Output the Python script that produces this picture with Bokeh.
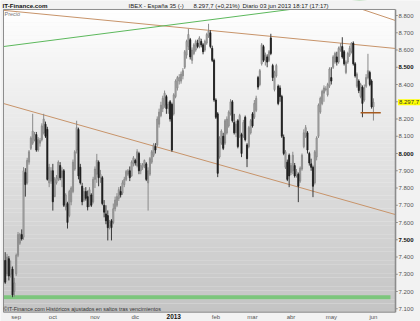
import numpy as np
import pandas as pd
from bokeh.plotting import figure
from bokeh.models import Range1d, Label, ColumnDataSource
from bokeh.core.properties import value
from bokeh.embed import file_html
from bokeh.resources import INLINE

# ---------------- data ----------------
dates = pd.bdate_range("2012-08-24", "2013-06-03")

open_ = [7380, 7302, 7390, 7300, 7330, 7200, 7302, 7410, 7480, 7530,
         7515, 7890, 7830, 7950, 8030, 8060, 8080, 8110, 8020, 8060,
         8080, 8120, 8170, 8140, 7830, 7840, 7900, 7750, 7830, 7850,
         7930, 7860, 7900, 7690, 7710, 7640, 7720, 7780, 7910, 8020,
         8140, 7921, 7810, 7730, 7780, 7750, 7700, 7760, 7720, 7850,
         7880, 7950, 7860, 7860, 7700, 7650, 7640, 7580, 7610, 7600,
         7680, 7700, 7740, 7780, 7770, 7820, 7850, 7880, 7900, 7870,
         7940, 7960, 7930, 8000, 7900, 7920, 7930, 7940, 7830, 7880,
         7950, 7990, 8040, 8050, 8170, 8220, 8260, 8280, 8330, 8260,
         8300, 8285, 8230, 8330, 8380, 8420, 8420, 8450, 8500, 8570,
         8620, 8660, 8540, 8580, 8600, 8640, 8620, 8650, 8630, 8600,
         8640, 8680, 8700, 8610, 8540, 8310, 8230, 7980, 8060, 8100,
         8060, 8120, 8160, 8230, 8300, 8180, 8120, 8190, 8100, 8110,
         8100, 8210, 8050, 8040, 8120, 8230, 8210, 8250, 8440, 8400,
         8520, 8620, 8540, 8560, 8540, 8670, 8510, 8370, 8450, 8390,
         8380, 8330, 8095, 7920, 7950, 7990, 7890, 7900, 7930, 7870,
         7880, 7840, 7910, 8040, 8100, 8120, 8000, 7940, 7920, 7830,
         7980, 8100, 8240, 8290, 8350, 8370, 8340, 8390, 8440, 8500,
         8530, 8560, 8530, 8600, 8620, 8590, 8470, 8530, 8570, 8590,
         8640, 8520, 8390, 8420, 8330, 8385, 8310, 8390, 8440, 8470,
         8420, 8270]
high = [7428, 7418, 7405, 7380, 7345, 7280, 7420, 7545, 7540, 7560,
        7921, 7915, 7975, 8020, 8100, 8230, 8125, 8125, 8095, 8090,
        8175, 8230, 8185, 8155, 7940, 7921, 7940, 7863, 7875, 7960,
        7950, 7920, 7910, 7770, 7720, 7790, 7810, 7965, 8020, 8190,
        8150, 7940, 7830, 7800, 7805, 7785, 7805, 7770, 7865, 7925,
        7998, 7960, 7905, 7870, 7730, 7700, 7670, 7615, 7620, 7710,
        7750, 7770, 7805, 7810, 7845, 7865, 7905, 7910, 7925, 7960,
        7985, 7970, 8025, 8010, 7945, 7945, 7965, 7950, 7920, 7980,
        8020, 8060, 8060, 8215, 8260, 8300, 8335, 8365, 8340, 8300,
        8310, 8295, 8350, 8430, 8450, 8460, 8475, 8495, 8600, 8660,
        8723, 8670, 8615, 8640, 8660, 8660, 8680, 8665, 8640, 8660,
        8700, 8752, 8715, 8625, 8550, 8320, 8240, 8100, 8140, 8120,
        8200, 8215, 8250, 8315, 8310, 8230, 8190, 8200, 8230, 8120,
        8195, 8220, 8060, 8160, 8200, 8240, 8310, 8335, 8450, 8490,
        8640, 8630, 8585, 8575, 8600, 8694, 8520, 8480, 8520, 8400,
        8395, 8340, 8110, 8020, 7965, 8000, 7945, 8010, 7945, 7910,
        7890, 7925, 8000, 8140, 8165, 8130, 8010, 7970, 7930, 8020,
        8100, 8290, 8330, 8370, 8395, 8390, 8410, 8500, 8500, 8570,
        8590, 8590, 8620, 8640, 8674, 8600, 8540, 8590, 8625, 8645,
        8650, 8530, 8470, 8430, 8410, 8395, 8400, 8460, 8578, 8480,
        8430, 8320]
low = [7244, 7290, 7264, 7280, 7167, 7170, 7290, 7399, 7470, 7495,
       7500, 7750, 7820, 7935, 8020, 8050, 8070, 8010, 8010, 8040,
       8070, 8110, 8090, 7843, 7805, 7824, 7669, 7747, 7820, 7840,
       7845, 7805, 7690, 7670, 7565, 7630, 7700, 7770, 7900, 8000,
       7850, 7820, 7700, 7720, 7727, 7670, 7690, 7690, 7710, 7800,
       7830, 7810, 7830, 7700, 7630, 7590, 7496, 7560, 7496, 7590,
       7665, 7690, 7725, 7745, 7760, 7805, 7840, 7870, 7840, 7865,
       7925, 7930, 7920, 7880, 7880, 7905, 7915, 7840, 7669, 7870,
       7940, 7979, 8000, 8040, 8150, 8210, 8240, 8265, 8230, 8230,
       8185, 8010, 8220, 8320, 8365, 8400, 8405, 8430, 8490, 8550,
       8600, 8545, 8520, 8570, 8590, 8610, 8610, 8615, 8575, 8590,
       8630, 8670, 8610, 8530, 8300, 8200, 7863, 7970, 8050, 8020,
       8050, 8110, 8150, 8220, 8180, 8110, 8095, 8030, 8090, 7979,
       8090, 8070, 7921, 8030, 8110, 8150, 8200, 8240, 8370, 8390,
       8510, 8530, 8510, 8500, 8530, 8570, 8420, 8360, 8440, 8280,
       8300, 8090, 7990, 7910, 7840, 7805, 7875, 7880, 7860, 7860,
       7718, 7830, 7900, 8030, 8090, 8000, 7930, 7900, 7747, 7820,
       7960, 8090, 8230, 8280, 8300, 8360, 8330, 8380, 8400, 8490,
       8520, 8510, 8520, 8590, 8550, 8510, 8460, 8520, 8560, 8580,
       8510, 8440, 8380, 8350, 8320, 8210, 8300, 8380, 8430, 8390,
       8260, 8191]
close = [7254, 7400, 7290, 7340, 7180, 7250, 7410, 7530, 7530, 7505,
         7900, 7820, 7960, 8010, 8090, 8130, 8110, 8020, 8080, 8075,
         8160, 8200, 8100, 7850, 7920, 7900, 7720, 7850, 7860, 7950,
         7860, 7900, 7700, 7760, 7600, 7780, 7800, 7950, 8010, 8150,
         7870, 7830, 7720, 7780, 7740, 7690, 7790, 7700, 7850, 7910,
         7960, 7860, 7880, 7710, 7660, 7610, 7570, 7600, 7570, 7680,
         7730, 7750, 7790, 7760, 7830, 7850, 7895, 7900, 7860, 7950,
         7975, 7945, 8010, 7900, 7930, 7935, 7960, 7850, 7900, 7970,
         8010, 8050, 8020, 8200, 8240, 8280, 8320, 8350, 8260, 8285,
         8200, 8020, 8340, 8420, 8440, 8440, 8460, 8480, 8590, 8650,
         8690, 8560, 8600, 8630, 8650, 8620, 8670, 8630, 8590, 8650,
         8690, 8710, 8620, 8540, 8310, 8210, 7885, 8090, 8130, 8030,
         8190, 8200, 8240, 8300, 8190, 8120, 8170, 8040, 8220, 8000,
         8180, 8080, 7970, 8150, 8190, 8160, 8290, 8320, 8385, 8480,
         8630, 8540, 8570, 8530, 8590, 8580, 8440, 8470, 8510, 8290,
         8330, 8100, 8000, 8010, 7850, 7870, 7930, 7990, 7870, 7895,
         7810, 7915, 7990, 8120, 8150, 8020, 7945, 7920, 7810, 8010,
         8090, 8280, 8320, 8360, 8380, 8375, 8400, 8490, 8420, 8560,
         8580, 8530, 8610, 8620, 8560, 8520, 8530, 8580, 8610, 8640,
         8520, 8450, 8460, 8365, 8400, 8290, 8380, 8440, 8480, 8400,
         8270, 8297.7]

month_labels = ["sep", "oct", "nov", "dic", "2013", "feb", "mar", "abr", "may", "jun"]
bold_month_labels = ["2013"]
y_ticks = [7100, 7200, 7300, 7400, 7500, 7600, 7700, 7800, 7900,
           8000, 8100, 8200, 8300, 8400, 8500, 8600, 8700, 8800]
y_tick_labels = ["7.100", "7.200", "7.300", "7.400", "7.500", "7.600", "7.700", "7.800", "7.900",
                 "8.000", "8.100", "8.200", "8.300", "8.400", "8.500", "8.600", "8.700", "8.800"]
bold_ticks = [7500, 8000, 8500]
last_price = 8297.7
last_price_label = "8.297,7"

title_parts = ["IBEX - España 35 (-)", "8.297,7 (+0,21%)", "Diario  03 jun 2013 18:17 (17:17)"]
brand = "IT-Finance.com"
series_name = "Precio"
footer = "©IT-Finance.com Históricos ajustados en saltos tras vencimientos"

# drawn analysis lines: (day index, price)
resist_x, resist_y = [-1, 213], [8830, 8609]
green_x, green_y = [-1, 213], [8620, 8914]
support_x, support_y = [-1, 213], [8290, 7646]
steep_x, steep_y = [190, 213], [8853, 8771]
level_x, level_y = [194, 205], [8236, 8236]
band_x, band_y = [-1, 210.3], [7167, 7167]

# ---------------- figure ----------------
FONT = "Liberation Sans"
W, H = 420, 321
# price box in data units (day index / price)
X0, X1 = -0.93, 213.05
Y0, Y1 = 7080, 8835
# full canvas ranges
XL, XR = -2.566, 226.69
YB, YT = 7026.1, 8887.0
dx = (XR - XL) / W   # data units per pixel
dy = (YT - YB) / H

p = figure(width=W, height=H, output_backend="svg", toolbar_location=None,
           x_range=Range1d(XL, XR), y_range=Range1d(YB, YT),
           x_axis_type=None, y_axis_type=None,
           min_border=0, min_border_left=0, min_border_right=0,
           min_border_top=0, min_border_bottom=0)
p.border_fill_color = "#f2f2f2"
p.background_fill_color = "#f2f2f2"
p.outline_line_color = None
p.grid.visible = False

# price-box background gradient (decoration)
n = 70
ys = np.linspace(Y0, Y1, n + 1)
cols = []
for k in range(n):
    t = (k + 0.5) / n
    g = int(round(196 + (255 - 196) * t))
    cols.append("#%02x%02x%02x" % (g, g, g))
p.quad(left=X0, right=X1, bottom=ys[:-1], top=ys[1:], fill_color=cols, line_color=None)

idx = list(range(len(close)))
up = [c >= o for o, c in zip(open_, close)]

def src(mask):
    ii = [i for i in idx if mask[i]]
    return ColumnDataSource(dict(
        x=ii,
        h=[high[i] for i in ii], l=[low[i] for i in ii],
        t=[max(open_[i], close[i]) for i in ii],
        b=[min(open_[i], close[i]) for i in ii]))

s_up = src(up)
s_dn = src([not u for u in up])

# analysis lines
p.line(band_x, band_y, line_color="#7cc67c", line_width=4)
p.line(resist_x, resist_y, line_color="#c8946a", line_width=1)
p.line(support_x, support_y, line_color="#c8946a", line_width=1)
p.line(green_x, green_y, line_color="#5cb85c", line_width=1)

# candles
p.segment(x0="x", y0="l", x1="x", y1="h", source=s_up, line_color="#8a8a8a", line_width=1)
p.vbar(x="x", width=0.6, top="t", bottom="b", source=s_up,
       fill_color="#b8b8b8", line_color="#858585", line_width=0.8)
p.segment(x0="x", y0="l", x1="x", y1="h", source=s_dn, line_color="#3a3a3a", line_width=1)
p.vbar(x="x", width=0.6, top="t", bottom="b", source=s_dn,
       fill_color="#1e1e1e", line_color="#1e1e1e", line_width=0.8)

p.line(level_x, level_y, line_color="#a65a1e", line_width=1.5)

# cover anything drawn above the box (steep line clipped at the box top)
p.quad(left=XL, right=XR, bottom=Y1, top=YT, fill_color="#f2f2f2", line_color=None)
p.line(steep_x, steep_y, line_color="#c8946a", line_width=1)
p.quad(left=X0 + 150, right=X1, bottom=Y1, top=YT, fill_color="#f2f2f2", line_color=None)

# price-box frame
p.line([X0, X0, X1], [Y0, Y1, Y1], line_color="#8c8c8c", line_width=1)
p.line([X0, X1], [Y0, Y0], line_color="#8c8c8c", line_width=1)
p.line([X1, X1], [Y0, Y1], line_color="#8c8c8c", line_width=1.6)

# right price axis
p.segment(x0=[X1] * len(y_ticks), y0=y_ticks, x1=[X1 + 2.2 * dx] * len(y_ticks), y1=y_ticks,
          line_color="#8c8c8c", line_width=1)
norm = [(t, l) for t, l in zip(y_ticks, y_tick_labels) if t not in bold_ticks and t != 8300]
bold = [(t, l) for t, l in zip(y_ticks, y_tick_labels) if t in bold_ticks]
p.text(x=[X1 + 3 * dx] * len(norm), y=[t for t, _ in norm], text=[l for _, l in norm],
       text_font=value(FONT), text_font_size="6px", text_color="#555555",
       text_align="left", text_baseline="middle")
p.text(x=[X1 + 3 * dx] * len(bold), y=[t for t, _ in bold], text=[l for _, l in bold],
       text_font=value(FONT), text_font_size="6px", text_font_style="bold", text_color="#111111",
       text_align="left", text_baseline="middle")
p.add_layout(Label(x=X1 + 2.5 * dx, y=last_price, text=last_price_label, text_font=FONT,
                   text_font_size="6px", text_color="#333333", text_align="left",
                   text_baseline="middle", background_fill_color="#ffff00", padding=1))

# bottom date axis
month_ticks = [i for i in range(1, len(dates)) if dates[i].month != dates[i - 1].month]
ylab = Y0 - 4.6 * dy
mn = [(t, l) for t, l in zip(month_ticks, month_labels) if l not in bold_month_labels]
mb = [(t, l) for t, l in zip(month_ticks, month_labels) if l in bold_month_labels]
p.text(x=[t for t, _ in mn], y=[ylab] * len(mn), text=[l for _, l in mn],
       text_font=value(FONT), text_font_size="6px", text_color="#555555",
       text_align="center", text_baseline="middle")
p.text(x=[t for t, _ in mb], y=[ylab] * len(mb), text=[l for _, l in mb],
       text_font=value(FONT), text_font_size="6.5px", text_font_style="bold", text_color="#111111",
       text_align="center", text_baseline="middle")

# header / captions (screen units = canvas pixels from bottom-left)
def lab(text, x, y_from_top, size="6px", style="normal", color="#222222"):
    p.add_layout(Label(x=x, y=H - y_from_top, x_units="screen", y_units="screen", text=text,
                       text_font=FONT, text_font_size=size, text_font_style=style,
                       text_color=color, text_align="left", text_baseline="middle"))

lab(brand, 2, 5, size="6.2px", style="bold", color="#111111")
lab(title_parts[0], 128, 5)
lab(title_parts[1], 193, 5)
lab(title_parts[2], 242, 5)
lab(series_name, 4, 13, size="5.5px", color="#777777")
lab(footer, 3, 308, size="5.4px", color="#333333")

open("out.html", "w").write(file_html(p, INLINE))
